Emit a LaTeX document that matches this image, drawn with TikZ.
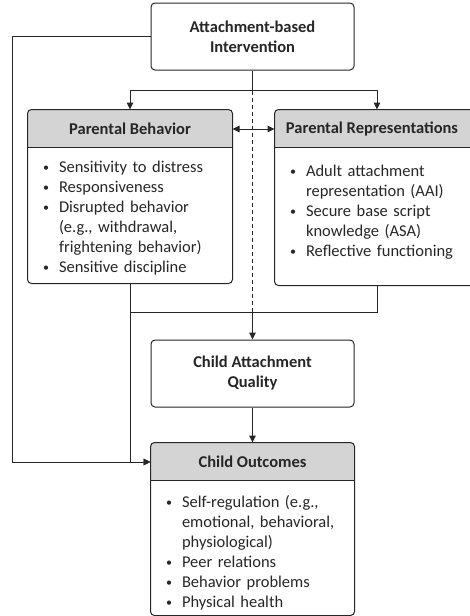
\documentclass[tikz,border=0pt]{standalone}
\usepackage{fontspec}
\setmainfont{Carlito}
\usetikzlibrary{positioning, arrows.meta}

\definecolor{hdr}{HTML}{D4D4D4}
\definecolor{ink}{HTML}{262626}
\newcommand{\fs}{\fontsize{16.5pt}{20pt}\selectfont}
\newcommand{\bl}[1]{\par\hangindent=16pt\hangafter=1\noindent\strut
  \makebox[16pt][l]{\raisebox{1pt}{\fontsize{12pt}{12pt}\selectfont\textbullet}}#1}

\begin{document}
\begin{tikzpicture}[x=1pt, y=-1pt, line width=1pt, draw=ink, text=ink, font=\fs,
    >={Triangle[length=7pt, width=6.5pt]},
    frame/.style 2 args={minimum width=#1, minimum height=#2, inner sep=0pt},
    plain/.style={draw, rounded corners=4pt, align=center, font=\fs\bfseries},
    head/.style={minimum height=38pt, inner sep=0pt, font=\fs\bfseries},
    list/.style={text width=#1, align=left, inner sep=0pt},
    link/.style={->}]
  \useasboundingbox (0,0) rectangle (469,616);

  \node [plain, frame={203pt}{67pt}] (ai) at (252.5,36.5) {Attachment-based\\Intervention};
  \node [frame={204pt}{173pt}] (pb) at (130,196.5) {};
  \node [frame={204pt}{175pt}] (pr) at (377,197.5) {};
  \node [plain, frame={203pt}{67pt}] (caq) at (252.5,373.5) {Child Attachment\\Quality};
  \node [frame={203pt}{172pt}] (co) at (252.5,529) {};

  \foreach \f in {pb, pr, co} {
    \begin{scope}
      \clip [rounded corners=4pt] (\f.north west) rectangle (\f.south east);
      \fill [hdr] (\f.north west) rectangle ([yshift=-38pt]\f.north east);
    \end{scope}
    \draw ([yshift=-38pt]\f.north west) -- ([yshift=-38pt]\f.north east);
    \draw [rounded corners=4pt] (\f.north west) rectangle (\f.south east);
  }

  \node [head, below=0pt of pb.north] (pbh) {Parental Behavior};
  \node [head, below=0pt of pr.north, xshift=-5pt] (prh) {Parental Representations};
  \node [head, below=0pt of co.north] (coh) {Child Outcomes};

  \node [list=185pt, below right=3pt and 15pt of pbh.south -| pb.west] (pbl)
    {\bl{Sensitivity to distress}\bl{Responsiveness}%
     \bl{Disrupted behavior\newline (e.g., withdrawal,\newline frightening behavior)}%
     \bl{Sensitive discipline}};
  \node [list=175pt, below right=7pt and 15pt of prh.south -| pr.west] (prl)
    {\bl{Adult attachment\newline representation (AAI)}%
     \bl{Secure base script\newline knowledge (ASA)}\bl{Reflective functioning}};
  \node [list=180pt, below right=5pt and 15pt of coh.south -| co.west] (col)
    {\bl{Self-regulation (e.g.,\newline emotional, behavioral,\newline physiological)}%
     \bl{Peer relations}\bl{Behavior problems}\bl{Physical health}};

  \coordinate [below=20pt of ai.south] (split);
  \coordinate [below=29pt of pb.south] (merge);
  \coordinate (lft) at (12,0);

  \draw (ai.south) -- (split);
  \draw [link] (split) -| (pb.north);
  \draw [link] (split) -| (pr.north);
  \draw [<->] (pbh -| pb.east) -- (pbh -| pr.west);
  \draw [line width=0.8pt, dash pattern=on 4pt off 3pt] (split) -- (split |- merge);
  \draw (pr.south) |- (merge);
  \draw [link] (split |- merge) -- (caq.north);
  \draw [link] (caq) -- (co);
  \draw [link] (pb.south) |- (coh -| co.west);
  \draw [link] (ai.west) -- (ai.west -| lft) |- (coh -| co.west);
%  \draw [link] (pr.south) -- (caq.north east);
\end{tikzpicture}
\end{document}
